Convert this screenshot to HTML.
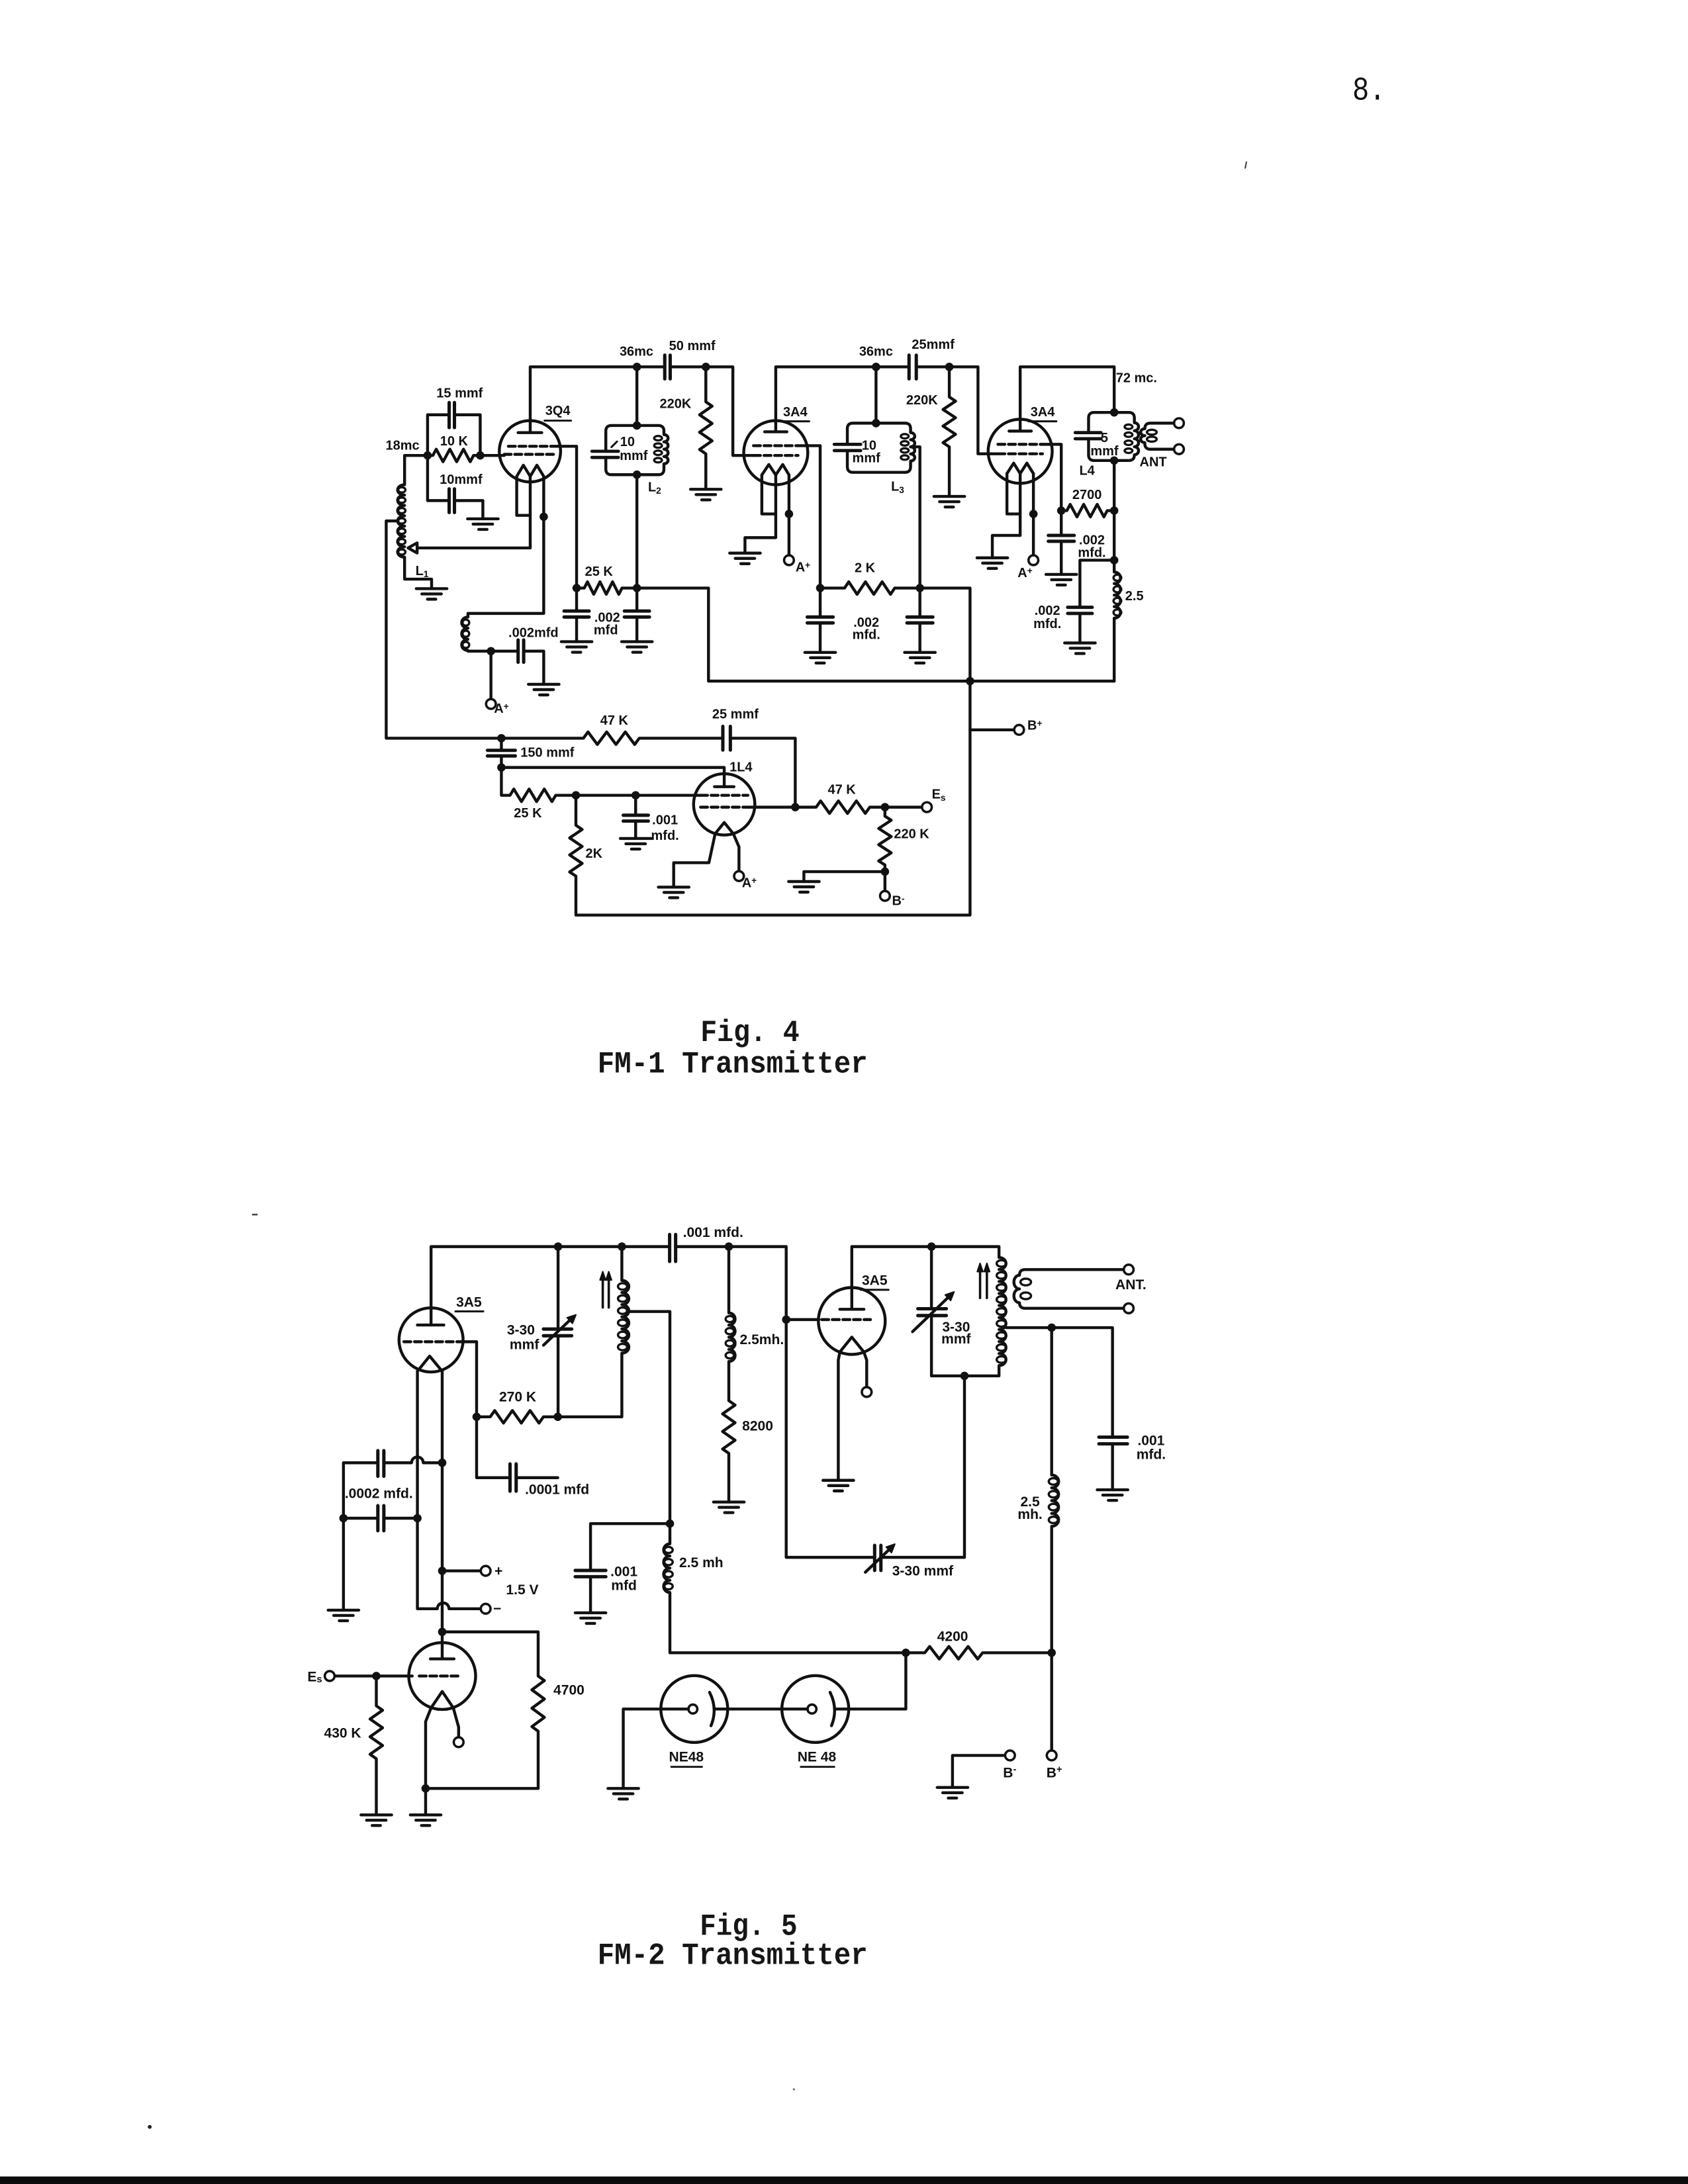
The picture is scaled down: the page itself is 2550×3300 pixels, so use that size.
<!DOCTYPE html>
<html>
<head>
<meta charset="utf-8">
<style>
html,body{margin:0;padding:0;background:#fff;}
svg{display:block;}
.l{font-family:"Liberation Sans",sans-serif;font-weight:bold;font-size:9.5px;fill:#111;text-anchor:middle;dominant-baseline:central;}
.m{font-family:"Liberation Sans",sans-serif;font-weight:bold;font-size:10px;fill:#111;text-anchor:middle;dominant-baseline:central;}
.cap{font-family:"Liberation Mono",monospace;font-weight:bold;font-size:22px;fill:#161616;}
</style>
</head>
<body>
<svg width="2550" height="3300" viewBox="0 0 1212 1568" preserveAspectRatio="none" xmlns="http://www.w3.org/2000/svg">
<rect x="0" y="0" width="1212" height="1568" fill="#fff"/>

<!-- page number -->
<text x="971" y="71.5" font-family="Liberation Mono, monospace" font-size="24" fill="#111" textLength="24" lengthAdjust="spacingAndGlyphs">8.</text>

<!-- stray marks -->
<path d="M895,116 L894,121" stroke="#444" stroke-width="1"/>
<path d="M181,872 H185" stroke="#444" stroke-width="1.2"/>
<circle cx="107.5" cy="1527" r="1.4" fill="#222"/>
<circle cx="570" cy="1500" r="0.8" fill="#777"/>

<g fill="none" stroke="#111" stroke-width="2.1" stroke-linejoin="round" stroke-linecap="round">

<!-- ================= FIG 4 ================= -->
<!-- 3Q4 tube -->
<circle cx="380.5" cy="324" r="22"/>
<path d="M380.7,310.6 V263.4 H477.3"/>
<path d="M372,310.6 H389"/>
<path d="M365,320.4 H400 M362,326.2 H398" stroke-dasharray="5,2.6"/>
<path d="M400,320.4 H414 V422.2"/>
<path d="M344.8,327 H362"/>
<path d="M371,342 L375.8,334 L380.7,342 L385.5,334 L390.4,342"/>
<path d="M371,342 V370 H380.7 M380.7,342 V393.4 H299.5 M390.4,342 V440.4 H336 V443"/>
<polygon points="293,393.4 299.5,389.8 299.5,397"/>

<!-- 15mmf / 10K / 10mmf -->
<path d="M307,327 V297.8 H322.5 M326.3,297.8 H344.8 V327"/>
<path d="M322.5,289 V307 M326.3,289 V307" stroke-width="2.4"/>
<path d="M307,327 H310.8 L313.2,322.5 L318.1,331.5 L323,322.5 L327.9,331.5 L332.8,322.5 L337.6,331.5 L340,327 H344.8"/>
<path d="M307,327 V359.4 H322.5 M326.3,359.4 H346.7 V372.5"/>
<path d="M322.5,351 V368 M326.3,351 V368" stroke-width="2.4"/>

<!-- L1 -->
<path d="M307,327 H290.5 V348 a5,3.715 0 0 0 0,7.43 a5,3.715 0 0 0 0,7.43 a5,3.715 0 0 0 0,7.43 a5,3.715 0 0 0 0,7.43 a5,3.715 0 0 0 0,7.43 a5,3.715 0 0 0 0,7.43 a5,3.715 0 0 0 0,7.43 V415.8 H309.9 V422.6"/>
<g stroke-width="1.6">
<ellipse cx="288.5" cy="351.7" rx="2.6" ry="1.9"/><ellipse cx="288.5" cy="359.1" rx="2.6" ry="1.9"/>
<ellipse cx="288.5" cy="366.6" rx="2.6" ry="1.9"/><ellipse cx="288.5" cy="374" rx="2.6" ry="1.9"/>
<ellipse cx="288.5" cy="381.4" rx="2.6" ry="1.9"/><ellipse cx="288.5" cy="388.9" rx="2.6" ry="1.9"/>
<ellipse cx="288.5" cy="396.3" rx="2.6" ry="1.9"/>
</g>
<path d="M285.5,374 H277.3 V530 H360"/>

<!-- filament choke + .002mfd -->
<path d="M336,443 a4.5,4 0 0 0 0,8 a4.5,4 0 0 0 0,8 a4.5,4 0 0 0 0,8 V467.5 H372"/>
<g stroke-width="1.6"><ellipse cx="334.5" cy="447" rx="2.4" ry="2.2"/><ellipse cx="334.5" cy="455" rx="2.4" ry="2.2"/><ellipse cx="334.5" cy="463" rx="2.4" ry="2.2"/></g>
<path d="M372,459.5 V475.5 M376,459.5 V475.5" stroke-width="2.4"/>
<path d="M376,467.5 H390.4 V491.3"/>
<path d="M352.5,467.5 V501.9"/>

<!-- 50mmf, 220K -->
<path d="M477.3,255 V272 M481.2,255 V272" stroke-width="2.4"/>
<path d="M481.2,263.4 H526.2 V327 H541"/>
<path d="M506.8,263.4 V288.5 L511.3,291.6 L502.3,297.8 L511.3,304 L502.3,310.3 L511.3,316.5 L502.3,322.7 L506.8,325.8 V351.3"/>

<!-- L2 tank -->
<path d="M457.3,263.4 V305.5"/>
<path d="M457.3,305.5 H472.7 Q476.7,305.5 476.7,309.5 V312 a3,2.625 0 0 1 0,5.25 a3,2.625 0 0 1 0,5.25 a3,2.625 0 0 1 0,5.25 a3,2.625 0 0 1 0,5.25 V336.8 Q476.7,340.8 472.7,340.8 H439 Q435,340.8 435,336.8 V328.4 M435,324 V309.5 Q435,305.5 439,305.5 H457.3"/>
<g stroke-width="1.6"><ellipse cx="472.5" cy="314.6" rx="2.8" ry="1.6"/><ellipse cx="472.5" cy="319.9" rx="2.8" ry="1.6"/><ellipse cx="472.5" cy="325.1" rx="2.8" ry="1.6"/><ellipse cx="472.5" cy="330.4" rx="2.8" ry="1.6"/></g>
<path d="M425,324 H444 M425,328.4 H444" stroke-width="2.3"/>
<path d="M439,321 L443,317" stroke-width="1.4"/>
<path d="M457.3,340.8 V422.2"/>

<!-- 25K and caps -->
<path d="M414,422.2 H419.5 L421.8,417.7 L426.3,426.7 L430.8,417.7 L435.3,426.7 L439.8,417.7 L444.3,426.7 L446.6,422.2 H457.3"/>
<path d="M414,422.2 V438.7 M414,443 V460.7 M457.3,422.2 V438.7 M457.3,443 V460.7"/>
<path d="M405,438.7 H423 M405,443 H423 M448.3,438.7 H466.3 M448.3,443 H466.3" stroke-width="2.4"/>
<path d="M457.3,422.2 H508.7 V489 H800"/>

<!-- 3A4 #1 -->
<circle cx="557" cy="325" r="23"/>
<path d="M557,310 V263.4 H652.7 M657.9,263.4 H702.2 V325.8 H716.5"/>
<path d="M652.7,255 V272 M657.9,255 V272" stroke-width="2.4"/>
<path d="M549,310 H565"/>
<path d="M541,320 H573 M541,327 H573" stroke-dasharray="5,2.6"/>
<path d="M573,320 H588.9 V422.2"/>
<path d="M547,341 L552,333.5 L557,341 L562,333.5 L566.5,341"/>
<path d="M547,341 V369 H557 M557,341 V386 H534.9 V397.1 M566.5,341 V398.7"/>

<!-- L3 tank -->
<path d="M629,263.4 V303.8"/>
<path d="M629,303.8 H649.8 Q653.8,303.8 653.8,307.8 V310.6 a3,2.55 0 0 1 0,5.1 a3,2.55 0 0 1 0,5.1 a3,2.55 0 0 1 0,5.1 a3,2.55 0 0 1 0,5.1 V335.1 Q653.8,339.1 649.8,339.1 H612.4 Q608.4,339.1 608.4,335.1 V323.5 M608.4,319 V307.8 Q608.4,303.8 612.4,303.8 H629"/>
<g stroke-width="1.6"><ellipse cx="649.6" cy="313.2" rx="2.8" ry="1.6"/><ellipse cx="649.6" cy="318.3" rx="2.8" ry="1.6"/><ellipse cx="649.6" cy="323.4" rx="2.8" ry="1.6"/><ellipse cx="649.6" cy="328.5" rx="2.8" ry="1.6"/></g>
<path d="M599,319 H618 M599,323.5 H618" stroke-width="2.3"/>
<path d="M653.8,320.8 H660.5 V422.2"/>

<!-- 220K #2 -->
<path d="M681.6,263.4 V285 L686.1,288 L677.1,294 L686.1,299.9 L677.1,305.9 L686.1,311.8 L677.1,317.8 L681.6,320.8 V356.4"/>

<!-- 2K + caps -->
<path d="M588.9,422.2 H606.4 L609.4,417.7 L615.4,426.7 L621.4,417.7 L627.4,426.7 L633.4,417.7 L639.4,426.7 L642.4,422.2 H696.5 V657 H413.5 V629"/>
<path d="M588.9,422.2 V443 M588.9,447.2 V468.4 M660.5,422.2 V443 M660.5,447.2 V468.4"/>
<path d="M579.6,443 H598.2 M579.6,447.2 H598.2 M651.2,443 H669.8 M651.2,447.2 H669.8" stroke-width="2.4"/>
<path d="M696.5,524 H728.2"/>

<!-- 3A4 #2 -->
<circle cx="732.5" cy="324" r="23"/>
<path d="M732.5,309.5 V263.4 H800 V296.1"/>
<path d="M724.5,309.5 H740.5"/>
<path d="M716.5,319 H748.5 M716.5,325.8 H748.5" stroke-dasharray="5,2.6"/>
<path d="M748.5,319 H762 V366.6"/>
<path d="M723,340 L727.8,332.5 L732.5,340 L737.3,332.5 L742,340"/>
<path d="M723,340 V369 H732.5 M732.5,340 V384.4 H712.5 V400.5 M742,340 V398.7"/>

<!-- L4 tank -->
<path d="M800,296.1 H810.5 Q814.5,296.1 814.5,300.1 V303.5 a3,2.875 0 0 1 0,5.75 a3,2.875 0 0 1 0,5.75 a3,2.875 0 0 1 0,5.75 a3,2.875 0 0 1 0,5.75 V326.6 Q814.5,330.6 810.5,330.6 H785.6 Q781.6,330.6 781.6,326.6 V315 M781.6,310.6 V300.1 Q781.6,296.1 785.6,296.1 H800"/>
<g stroke-width="1.6"><ellipse cx="810.3" cy="306.4" rx="2.8" ry="1.6"/><ellipse cx="810.3" cy="312.1" rx="2.8" ry="1.6"/><ellipse cx="810.3" cy="317.9" rx="2.8" ry="1.6"/><ellipse cx="810.3" cy="323.6" rx="2.8" ry="1.6"/></g>
<path d="M772,310.6 H790.5 M772,315 H790.5" stroke-width="2.3"/>
<path d="M843,303.8 H826 Q822,303.8 822,307.8 a3,2.5 0 0 0 0,5 a3,2.5 0 0 0 0,5 V318.5 Q822,322.5 826,322.5 H843"/>
<g stroke-width="1.6"><ellipse cx="827" cy="310.3" rx="3.5" ry="1.8"/><ellipse cx="827" cy="315.3" rx="3.5" ry="1.8"/></g>
<path d="M800,330.6 V410.7 a4.5,4.1375 0 0 1 0,8.275 a4.5,4.1375 0 0 1 0,8.275 a4.5,4.1375 0 0 1 0,8.275 a4.5,4.1375 0 0 1 0,8.275 V489"/>
<g stroke-width="1.6"><ellipse cx="802.3" cy="414.8" rx="2.8" ry="2.2"/><ellipse cx="802.3" cy="423.1" rx="2.8" ry="2.2"/><ellipse cx="802.3" cy="431.4" rx="2.8" ry="2.2"/><ellipse cx="802.3" cy="439.7" rx="2.8" ry="2.2"/></g>

<!-- 2700 + caps -->
<path d="M762,366.6 H766 L768.4,362.1 L773.3,371.1 L778.1,362.1 L782.9,371.1 L787.8,362.1 L792.6,371.1 L795,366.6 H800"/>
<path d="M762,366.6 V384.4 M762,388.6 V412.4"/>
<path d="M752.7,384.4 H771.3 M752.7,388.6 H771.3" stroke-width="2.4"/>
<path d="M800,402.2 H775.4 V436 M775.4,440.4 V461.6"/>
<path d="M766.6,436 H784.2 M766.6,440.4 H784.2" stroke-width="2.4"/>

<!-- lower section fig 4 -->
<path d="M360,530 H418.9 L422.2,525.5 L428.9,534.5 L435.6,525.5 L442.3,534.5 L449,525.5 L455.7,534.5 L459,530 H519"/>
<path d="M519,521.5 V538.5 M524.4,521.5 V538.5" stroke-width="2.4"/>
<path d="M524.4,530 H571 V579.5"/>
<path d="M360,530 V538.7 M360,542.7 V551 H520 V564.8"/>
<path d="M350,538.7 H370 M350,542.7 H370" stroke-width="2.4"/>
<circle cx="520" cy="577.5" r="22"/>
<path d="M513,564.8 H527"/>
<path d="M503,571 H537 M503,579.5 H537" stroke-dasharray="5,2.6"/>
<path d="M360,551 V571 H366.2 L368.9,566.5 L374.4,575.5 L379.9,566.5 L385.3,575.5 L390.8,566.5 L396.3,575.5 L399,571 H503"/>
<path d="M537,579.5 H586 L589.2,575 L595.6,584 L602,575 L608.5,584 L614.9,575 L621.3,584 L624.5,579.5 H662"/>
<path d="M513.5,598.5 L520,590.5 L526.5,598.5"/>
<path d="M513.5,598.5 L509,619.4 H483.7 V636.9 M526.5,598.5 L530.6,608 V625.5"/>
<path d="M413.5,571 V592.5 L418,595.5 L409,601.6 L418,607.7 L409,613.8 L418,619.9 L409,626 L413.5,629"/>
<path d="M456.4,571 V585.3 M456.4,589.5 V602"/>
<path d="M447.5,585.3 H465.5 M447.5,589.5 H465.5" stroke-width="2.4"/>
<path d="M635.4,579.5 V586 L639.9,588.9 L630.9,594.8 L639.9,600.6 L630.9,606.4 L639.9,612.3 L630.9,618.1 L635.4,621 V625.8 H577.2 V632.9 M635.4,625.8 V639.7"/>

<!-- grounds fig 4 -->
<path d="M495.8,351.3 h22 M499.8,355.1 h14 M503.8,358.9 h6"/>
<path d="M335.7,372.5 h22 M339.7,376.3 h14 M343.7,380.1 h6"/>
<path d="M298.9,422.6 h22 M302.9,426.4 h14 M306.9,430.2 h6"/>
<path d="M403,460.7 h22 M407,464.5 h14 M411,468.3 h6"/>
<path d="M446.3,460.7 h22 M450.3,464.5 h14 M454.3,468.3 h6"/>
<path d="M379.4,491.3 h22 M383.4,495.1 h14 M387.4,498.9 h6"/>
<path d="M523.9,397.1 h22 M527.9,400.9 h14 M531.9,404.7 h6"/>
<path d="M670.6,356.4 h22 M674.6,360.2 h14 M678.6,364 h6"/>
<path d="M577.9,468.4 h22 M581.9,472.2 h14 M585.9,476 h6"/>
<path d="M649.5,468.4 h22 M653.5,472.2 h14 M657.5,476 h6"/>
<path d="M701.5,400.5 h22 M705.5,404.3 h14 M709.5,408.1 h6"/>
<path d="M751,412.4 h22 M755,416.2 h14 M759,420 h6"/>
<path d="M764.4,461.6 h22 M768.4,465.4 h14 M772.4,469.2 h6"/>
<path d="M445.4,602 h22 M449.4,605.8 h14 M453.4,609.6 h6"/>
<path d="M472.7,636.9 h22 M476.7,640.7 h14 M480.7,644.5 h6"/>
<path d="M566.2,632.9 h22 M570.2,636.7 h14 M574.2,640.5 h6"/>

<!-- ================= FIG 5 ================= -->
<!-- tube 1 3A5 -->
<circle cx="309.5" cy="962" r="23"/>
<path d="M309.5,951.3 V895 H480.8"/>
<path d="M480.8,886.3 V905.7 M485.1,886.3 V905.7" stroke-width="2.4"/>
<path d="M485.1,895 H564.5 V1118.1 H628"/>
<path d="M299.7,951.3 H318.7"/>
<path d="M290,963.3 H331" stroke-dasharray="5,2.6"/>
<path d="M331,963.3 H342.2 V1060.9 H366.2 M370.6,1060.9 H400.5"/>
<path d="M366.2,1051 V1070.6 M370.6,1051 V1070.6" stroke-width="2.4"/>
<path d="M342.2,1017.2 H352 L355.2,1012.7 L361.5,1021.7 L367.9,1012.7 L374.3,1021.7 L380.6,1012.7 L387,1021.7 L390.2,1017.2 H400.5"/>
<path d="M299.7,984.5 L308.5,973.6 L317.5,984.5"/>
<path d="M299.7,984.5 V1155 H314 a4.2,4.2 0 0 1 8.4,0 H345.2 M317.5,984.5 V1171.6"/>
<path d="M317.5,1127.8 H345.2"/>
<path d="M246.6,1050.2 H271.3 M275.6,1050.2 H295.5 a4.2,4.2 0 0 1 8.4,0 H317.5 M246.6,1050.2 V1156 M246.6,1090 H271.3 M275.6,1090 H299.7"/>
<path d="M271.3,1041.5 V1059.9 M275.6,1041.5 V1059.9 M271.3,1081 V1099 M275.6,1081 V1099" stroke-width="2.4"/>

<!-- tank 1 -->
<path d="M400.7,895 V954.2 M400.7,959 V1017.2"/>
<path d="M390.2,954.2 H410.5 M390.2,959 H410.5" stroke-width="2.4"/>
<path d="M390.2,965.8 L410,947"/>
<polygon points="413.5,944 411,950.1 407.2,946" fill="#111" stroke-width="1"/>
<path d="M446.5,895 V919.3 a5,4.35 0 0 1 0,8.7 a5,4.35 0 0 1 0,8.7 a5,4.35 0 0 1 0,8.7 a5,4.35 0 0 1 0,8.7 a5,4.35 0 0 1 0,8.7 a5,4.35 0 0 1 0,8.7 V1017.2 H400.5"/>
<g stroke-width="1.6"><ellipse cx="447" cy="923.6" rx="3.3" ry="2.3"/><ellipse cx="447" cy="932.3" rx="3.3" ry="2.3"/><ellipse cx="447" cy="941" rx="3.3" ry="2.3"/><ellipse cx="447" cy="949.7" rx="3.3" ry="2.3"/><ellipse cx="447" cy="958.4" rx="3.3" ry="2.3"/><ellipse cx="447" cy="967.1" rx="3.3" ry="2.3"/></g>
<path d="M451.5,941.6 H481 V1093.9"/>
<path d="M432.8,938.7 V917 M437.1,938.7 V917" stroke-width="1.7"/>
<path d="M430.8,919 L432.8,913 L434.8,919 Z M435.1,919 L437.1,913 L439.1,919 Z" fill="#111" stroke-width="1"/>

<!-- 2.5mh + 8200 -->
<path d="M523.3,895 V942.6 a4.5,4.36 0 0 1 0,8.725 a4.5,4.36 0 0 1 0,8.725 a4.5,4.36 0 0 1 0,8.725 a4.5,4.36 0 0 1 0,8.725 V1005.6 L527.8,1008.8 L518.8,1015.1 L527.8,1021.4 L518.8,1027.7 L527.8,1034 L518.8,1040.3 L523.3,1043.4 V1078.4"/>
<g stroke-width="1.6"><ellipse cx="524" cy="947" rx="3" ry="2.2"/><ellipse cx="524" cy="955.7" rx="3" ry="2.2"/><ellipse cx="524" cy="964.4" rx="3" ry="2.2"/><ellipse cx="524" cy="973.1" rx="3" ry="2.2"/></g>

<!-- .001 mid cap + 2.5mh lower -->
<path d="M481,1093.9 H424 V1127.5 M424,1132 V1157.9"/>
<path d="M413,1127.5 H435 M413,1132 H435" stroke-width="2.4"/>
<path d="M481,1093.9 V1108.4 a4.5,4.36 0 0 0 0,8.725 a4.5,4.36 0 0 0 0,8.725 a4.5,4.36 0 0 0 0,8.725 a4.5,4.36 0 0 0 0,8.725 V1186.6 H664 L667.5,1182.1 L674.4,1191.1 L681.3,1182.1 L688.2,1191.1 L695.1,1182.1 L702,1191.1 L705.5,1186.6 H755.1"/>
<g stroke-width="1.6"><ellipse cx="480" cy="1112.8" rx="3" ry="2.2"/><ellipse cx="480" cy="1121.5" rx="3" ry="2.2"/><ellipse cx="480" cy="1130.2" rx="3" ry="2.2"/><ellipse cx="480" cy="1138.9" rx="3" ry="2.2"/></g>

<!-- tube 2 3A5 -->
<circle cx="611.6" cy="948.4" r="24"/>
<path d="M611.6,940 V895 H717.3 V902.8 a5,4.31 0 0 1 0,8.62 a5,4.31 0 0 1 0,8.62 a5,4.31 0 0 1 0,8.62 a5,4.31 0 0 1 0,8.62 a5,4.31 0 0 1 0,8.62 a5,4.31 0 0 1 0,8.62 a5,4.31 0 0 1 0,8.62 a5,4.31 0 0 1 0,8.62 a5,4.31 0 0 1 0,8.62 V987.8 H668.8"/>
<g stroke-width="1.6"><ellipse cx="719" cy="907.1" rx="3.4" ry="2.3"/><ellipse cx="719" cy="915.7" rx="3.4" ry="2.3"/><ellipse cx="719" cy="924.4" rx="3.4" ry="2.3"/><ellipse cx="719" cy="933" rx="3.4" ry="2.3"/><ellipse cx="719" cy="941.6" rx="3.4" ry="2.3"/><ellipse cx="719" cy="950.2" rx="3.4" ry="2.3"/><ellipse cx="719" cy="958.8" rx="3.4" ry="2.3"/><ellipse cx="719" cy="967.5" rx="3.4" ry="2.3"/><ellipse cx="719" cy="976.1" rx="3.4" ry="2.3"/></g>
<path d="M603,940 H620.3"/>
<path d="M564.5,947.4 H588"/>
<path d="M590,947.4 H625" stroke-dasharray="5,2.6"/>
<path d="M603,970.7 L611.6,960 L620.3,970.7"/>
<path d="M603,970.7 L601.9,976.5 V1062.8 M620.3,970.7 L622.3,976.5 V995.9"/>
<path d="M668.8,895 V939.6 M668.8,944.5 V987.8"/>
<path d="M659,939.6 H679.5 M659,944.5 H679.5" stroke-width="2.4"/>
<path d="M655.2,956.1 L681.5,930.8"/>
<polygon points="685,927.5 682.6,933.7 678.7,929.7" fill="#111" stroke-width="1"/>
<path d="M703.7,931.9 V911 M708.6,931.9 V911" stroke-width="1.7"/>
<path d="M701.7,913 L703.7,907 L705.7,913 Z M706.6,913 L708.6,907 L710.6,913 Z" fill="#111" stroke-width="1"/>
<path d="M806.9,911.5 H736 Q732,911.5 732,915.5 a4,4.95 0 0 0 0,9.9 a4,4.95 0 0 0 0,9.9 Q732,939.3 736,939.3 H806.9"/>
<g stroke-width="1.6"><ellipse cx="736.5" cy="920.45" rx="3.8" ry="2.4"/><ellipse cx="736.5" cy="930.35" rx="3.8" ry="2.4"/></g>
<path d="M722.3,953.2 H798.8 V1031.8 M798.8,1036.6 V1069.6"/>
<path d="M789,1031.8 H809.5 M789,1036.6 H809.5" stroke-width="2.4"/>
<path d="M755.1,953.2 V1059 a5,4.6 0 0 1 0,9.2 a5,4.6 0 0 1 0,9.2 a5,4.6 0 0 1 0,9.2 a5,4.6 0 0 1 0,9.2 V1256.8"/>
<g stroke-width="1.6"><ellipse cx="756.3" cy="1063.6" rx="3.3" ry="2.3"/><ellipse cx="756.3" cy="1072.8" rx="3.3" ry="2.3"/><ellipse cx="756.3" cy="1082" rx="3.3" ry="2.3"/><ellipse cx="756.3" cy="1091.2" rx="3.3" ry="2.3"/></g>

<!-- bottom 3-30 feedback -->
<path d="M632.5,1118.1 H692.5 V987.8"/>
<path d="M628,1109.5 V1127.5 M632.5,1109.5 V1127.5" stroke-width="2.4"/>
<path d="M621.3,1128.8 L639.5,1111.5"/>
<polygon points="642.5,1108.6 640.1,1114.7 636.3,1110.7" fill="#111" stroke-width="1"/>

<!-- NE48 -->
<circle cx="498.5" cy="1227" r="24"/>
<circle cx="585.4" cy="1227" r="24"/>
<circle cx="497.5" cy="1227" r="3.2" stroke-width="1.7"/>
<circle cx="583" cy="1227" r="3.2" stroke-width="1.7"/>
<path d="M509.5,1215 Q515.5,1227 510.5,1239 M596,1215 Q602,1227 597,1239"/>
<path d="M447.5,1284 V1227 H494.3 M513.5,1227 H579.8 M600,1227 H650.4 V1186.6"/>
<path d="M721.7,1260.3 H683.9 V1283.3"/>

<!-- lower tube -->
<circle cx="317.5" cy="1203.3" r="24"/>
<path d="M317.5,1171.6 V1191 M309,1191 H326"/>
<path d="M317.5,1171.6 H386.4 V1203.3 L390.9,1206.6 L381.9,1213.2 L390.9,1219.8 L381.9,1226.4 L390.9,1233 L381.9,1239.6 L386.4,1242.9 V1284 H305.6"/>
<path d="M301,1203.3 H330" stroke-dasharray="5,2.6"/>
<path d="M296,1203.3 H240.2"/>
<path d="M270.2,1203.3 V1224.7 L274.7,1227.9 L265.7,1234.2 L274.7,1240.5 L265.7,1246.9 L274.7,1253.2 L265.7,1259.5 L270.2,1262.7 V1303"/>
<path d="M309.5,1226.2 L317.5,1214.4 L325.5,1226.2"/>
<path d="M309.5,1226.2 L305.6,1236 V1303 M325.5,1226.2 L329.3,1240 V1247.3"/>

<!-- grounds fig 5 -->
<path d="M512.3,1078.4 h22 M516.3,1082.2 h14 M520.3,1086 h6"/>
<path d="M235.6,1156 h22 M239.6,1159.8 h14 M243.6,1163.6 h6"/>
<path d="M413,1157.9 h22 M417,1161.7 h14 M421,1165.5 h6"/>
<path d="M259.2,1303 h22 M263.2,1306.8 h14 M267.2,1310.6 h6"/>
<path d="M294.6,1303 h22 M298.6,1306.8 h14 M302.6,1310.6 h6"/>
<path d="M436.5,1284 h22 M440.5,1287.8 h14 M444.5,1291.6 h6"/>
<path d="M672.9,1283.3 h22 M676.9,1287.1 h14 M680.9,1290.9 h6"/>
<path d="M590.9,1062.8 h22 M594.9,1066.6 h14 M598.9,1070.4 h6"/>
<path d="M787.8,1069.6 h22 M791.8,1073.4 h14 M795.8,1077.2 h6"/>

<!-- underlines -->
<path d="M391,302 H410 M561,302.5 H581 M738.5,302.5 H758.5 M327,941.5 H347 M618,926 H638 M482,1268.5 H504 M575,1268.5 H599" stroke-width="1.4"/>
</g>

<!-- terminals -->
<g fill="#fff" stroke="#111" stroke-width="1.7">
<circle cx="352.5" cy="505.4" r="3.5"/><circle cx="566.5" cy="402.2" r="3.5"/><circle cx="742" cy="402.2" r="3.5"/>
<circle cx="731.7" cy="524" r="3.5"/><circle cx="665.5" cy="579.5" r="3.5"/><circle cx="530.6" cy="629" r="3.5"/>
<circle cx="635.4" cy="643.2" r="3.5"/><circle cx="846.5" cy="303.8" r="3.5"/><circle cx="846.5" cy="322.5" r="3.5"/>
<circle cx="348.7" cy="1127.8" r="3.5"/><circle cx="348.7" cy="1155" r="3.5"/><circle cx="236.7" cy="1203.3" r="3.5"/>
<circle cx="329.3" cy="1250.8" r="3.5"/><circle cx="622.3" cy="999.4" r="3.5"/><circle cx="810.4" cy="911.5" r="3.5"/>
<circle cx="810.4" cy="939.3" r="3.5"/><circle cx="725.2" cy="1260.3" r="3.5"/><circle cx="755.1" cy="1260.3" r="3.5"/>
</g>

<!-- nodes -->
<g fill="#111">
<circle cx="307" cy="327" r="3"/><circle cx="344.8" cy="327" r="3"/><circle cx="457.3" cy="263.4" r="3"/>
<circle cx="506.8" cy="263.4" r="3"/><circle cx="457.3" cy="305.5" r="3"/><circle cx="457.3" cy="340.8" r="3"/>
<circle cx="390.4" cy="371" r="3"/><circle cx="352.5" cy="467.5" r="3"/><circle cx="414" cy="422.2" r="3"/>
<circle cx="457.3" cy="422.2" r="3"/><circle cx="629" cy="263.4" r="3"/><circle cx="681.6" cy="263.4" r="3"/>
<circle cx="629" cy="303.8" r="3"/><circle cx="566.5" cy="369" r="3"/><circle cx="588.9" cy="422.2" r="3"/>
<circle cx="660.5" cy="422.2" r="3"/><circle cx="742" cy="369" r="3"/><circle cx="800" cy="296.1" r="3"/>
<circle cx="800" cy="330.6" r="3"/><circle cx="762" cy="366.6" r="3"/><circle cx="800" cy="366.6" r="3"/>
<circle cx="800" cy="402.2" r="3"/><circle cx="696.5" cy="489" r="3"/><circle cx="360" cy="530" r="3"/>
<circle cx="360" cy="551" r="3"/><circle cx="413.5" cy="571" r="3"/><circle cx="456.4" cy="571" r="3"/>
<circle cx="571" cy="579.5" r="3"/><circle cx="635.4" cy="579.5" r="3"/><circle cx="635.4" cy="625.8" r="3"/>
<circle cx="400.7" cy="895" r="3"/><circle cx="446.5" cy="895" r="3"/><circle cx="523.3" cy="895" r="3"/>
<circle cx="564.5" cy="947.4" r="3"/><circle cx="668.8" cy="895" r="3"/><circle cx="692.5" cy="987.8" r="3"/>
<circle cx="755.1" cy="953.2" r="3"/><circle cx="755.1" cy="1186.6" r="3"/><circle cx="650.4" cy="1186.6" r="3"/>
<circle cx="481" cy="1093.9" r="3"/><circle cx="342.2" cy="1017.2" r="3"/><circle cx="400.5" cy="1017.2" r="3"/>
<circle cx="317.5" cy="1050.2" r="3"/><circle cx="246.6" cy="1090" r="3"/><circle cx="299.7" cy="1090" r="3"/>
<circle cx="317.5" cy="1127.8" r="3"/><circle cx="317.5" cy="1171.6" r="3"/><circle cx="270.2" cy="1203.3" r="3"/>
<circle cx="305.6" cy="1284" r="3"/>
</g>

<!-- labels fig 4 -->
<text class="l" x="330" y="282.5">15 mmf</text>
<text class="l" x="326" y="317">10 K</text>
<text class="l" x="289" y="320">18mc</text>
<text class="l" x="331" y="344.5">10mmf</text>
<text class="l" x="400.5" y="295">3Q4</text>
<text class="l" x="457" y="252.5">36mc</text>
<text class="l" x="497" y="248.5">50 mmf</text>
<text class="l" x="485" y="290">220K</text>
<text class="l" x="450.5" y="317.5">10</text>
<text class="l" x="455" y="327.5">mmf</text>
<text class="l" x="470" y="350">L<tspan font-size="6.5" dy="2">2</tspan></text>
<text class="l" x="430" y="410.5">25 K</text>
<text class="l" x="436" y="443.5">.002</text>
<text class="l" x="435" y="452.5">mfd</text>
<text class="l" x="383" y="454.5">.002mfd</text>
<text class="l" x="303" y="410">L<tspan font-size="6.5" dy="2">1</tspan></text>
<text class="l" x="360" y="509">A<tspan font-size="6.5" dy="-2">+</tspan></text>
<text class="l" x="571" y="296">3A4</text>
<text class="l" x="629" y="252.5">36mc</text>
<text class="l" x="670" y="247.5">25mmf</text>
<text class="l" x="662" y="287.5">220K</text>
<text class="l" x="624" y="320">10</text>
<text class="l" x="622" y="329">mmf</text>
<text class="l" x="644.5" y="349.5">L<tspan font-size="6.5" dy="2">3</tspan></text>
<text class="l" x="621" y="408">2 K</text>
<text class="l" x="622" y="447">.002</text>
<text class="l" x="622" y="456">mfd.</text>
<text class="l" x="576.5" y="407.5">A<tspan font-size="6.5" dy="-2">+</tspan></text>
<text class="l" x="748.6" y="296">3A4</text>
<text class="l" x="816" y="271.5">72 mc.</text>
<text class="l" x="793" y="314.5">5</text>
<text class="l" x="793" y="324">mmf</text>
<text class="l" x="780.5" y="338">L4</text>
<text class="l" x="828" y="332">ANT</text>
<text class="l" x="780.5" y="355.5">2700</text>
<text class="l" x="784" y="388">.002</text>
<text class="l" x="784" y="397">mfd.</text>
<text class="l" x="736" y="411.5">A<tspan font-size="6.5" dy="-2">+</tspan></text>
<text class="l" x="752" y="438.5">.002</text>
<text class="l" x="752" y="448">mfd.</text>
<text class="l" x="814.5" y="428">2.5</text>
<text class="l" x="743" y="521">B<tspan font-size="6.5" dy="-2">+</tspan></text>
<text class="l" x="441" y="517.5">47 K</text>
<text class="l" x="528" y="513">25 mmf</text>
<text class="l" x="393" y="540.5">150 mmf</text>
<text class="l" x="532" y="551">1L4</text>
<text class="l" x="379" y="584">25 K</text>
<text class="l" x="426.5" y="613">2K</text>
<text class="l" x="477.5" y="589">.001</text>
<text class="l" x="477.5" y="600">mfd.</text>
<text class="l" x="604.4" y="567">47 K</text>
<text class="l" x="674" y="570.5">E<tspan font-size="6.5" dy="2">s</tspan></text>
<text class="l" x="654.5" y="599">220 K</text>
<text class="l" x="645" y="647">B<tspan font-size="6.5" dy="-2">-</tspan></text>
<text class="l" x="538" y="634">A<tspan font-size="6.5" dy="-2">+</tspan></text>

<!-- labels fig 5 -->
<text class="m" x="512" y="885">.001 mfd.</text>
<text class="m" x="336.7" y="935">3A5</text>
<text class="m" x="374" y="955">3-30</text>
<text class="m" x="376.5" y="965.5">mmf</text>
<text class="m" x="371.7" y="1003">270 K</text>
<text class="m" x="400" y="1069.5">.0001 mfd</text>
<text class="m" x="272" y="1072.5">.0002 mfd.</text>
<text class="m" x="547" y="962">2.5mh.</text>
<text class="m" x="544" y="1024">8200</text>
<text class="m" x="503.5" y="1122">2.5 mh</text>
<text class="m" x="448" y="1128.5">.001</text>
<text class="m" x="448" y="1138.5">mfd</text>
<text class="m" x="358" y="1128">+</text>
<text class="m" x="357" y="1155">−</text>
<text class="m" x="375" y="1141.5">1.5 V</text>
<text class="m" x="628" y="919.5">3A5</text>
<text class="m" x="686.5" y="953">3-30</text>
<text class="m" x="686.5" y="961.5">mmf</text>
<text class="m" x="812" y="922.6">ANT.</text>
<text class="m" x="826.5" y="1034.5">.001</text>
<text class="m" x="826.5" y="1044.5">mfd.</text>
<text class="m" x="739.6" y="1078.4">2.5</text>
<text class="m" x="739.6" y="1087.5">mh.</text>
<text class="m" x="662.5" y="1128">3-30 mmf</text>
<text class="m" x="684" y="1175">4200</text>
<text class="m" x="492.8" y="1261.5">NE48</text>
<text class="m" x="586.5" y="1261.5">NE 48</text>
<text class="m" x="725" y="1273">B<tspan font-size="7" dy="-2.5">-</tspan></text>
<text class="m" x="757" y="1273">B<tspan font-size="7" dy="-2.5">+</tspan></text>
<text class="m" x="226" y="1204">E<tspan font-size="7" dy="2">s</tspan></text>
<text class="m" x="246" y="1244.5">430 K</text>
<text class="m" x="408.5" y="1213.6">4700</text>

<!-- captions -->
<text class="cap" x="503" y="747.5" textLength="71" lengthAdjust="spacingAndGlyphs">Fig. 4</text>
<text class="cap" x="429" y="770" textLength="194" lengthAdjust="spacingAndGlyphs">FM-1 Transmitter</text>
<text class="cap" x="502.5" y="1389" textLength="70" lengthAdjust="spacingAndGlyphs">Fig. 5</text>
<text class="cap" x="429" y="1410" textLength="194" lengthAdjust="spacingAndGlyphs">FM-2 Transmitter</text>

<!-- bottom black edge -->
<rect x="0" y="1562.6" width="1212" height="5.4" fill="#0c0c0c"/>
</svg>
</body>
</html>
